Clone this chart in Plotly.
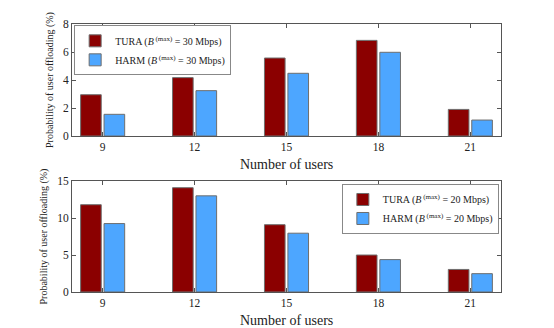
import plotly.graph_objects as go

users = [9, 12, 15, 18, 21]

# top panel, B(max) = 30 Mbps
tura_30 = [2.95, 4.17, 5.57, 6.83, 1.9]
harm_30 = [1.55, 3.24, 4.48, 5.98, 1.14]

# bottom panel, B(max) = 20 Mbps
tura_20 = [11.8, 14.1, 9.1, 5.0, 3.05]
harm_20 = [9.25, 13.0, 7.95, 4.38, 2.48]

TURA_COLOR = "#8b0000"
HARM_COLOR = "#4da6ff"
EDGE = dict(color="#6e6e6e", width=1)
FONT = "Liberation Serif"

fig = go.Figure()

fig.add_trace(go.Bar(x=users, y=tura_30, name="TURA (<i>B</i><sup> (max)</sup> = 30 Mbps)",
                     marker=dict(color=TURA_COLOR, line=EDGE), xaxis="x", yaxis="y", legend="legend"))
fig.add_trace(go.Bar(x=users, y=harm_30, name="HARM (<i>B</i><sup> (max)</sup> = 30 Mbps)",
                     marker=dict(color=HARM_COLOR, line=EDGE), xaxis="x", yaxis="y", legend="legend"))
fig.add_trace(go.Bar(x=users, y=tura_20, name="TURA (<i>B</i><sup> (max)</sup> = 20 Mbps)",
                     marker=dict(color=TURA_COLOR, line=EDGE), xaxis="x2", yaxis="y2", legend="legend2"))
fig.add_trace(go.Bar(x=users, y=harm_20, name="HARM (<i>B</i><sup> (max)</sup> = 20 Mbps)",
                     marker=dict(color=HARM_COLOR, line=EDGE), xaxis="x2", yaxis="y2", legend="legend2"))

axis_common = dict(showline=True, linecolor="#555555", linewidth=1, mirror="ticks",
                   ticks="inside", ticklen=4, tickcolor="#555555", showgrid=False,
                   zeroline=False, automargin=False,
                   tickfont=dict(family=FONT, size=11.5, color="#222"))

xcommon = dict(axis_common, range=[8, 22], tickvals=users)
ytitle = dict(text="Probability of user offloading (%)", font=dict(family=FONT, size=10, color="#222"),
              standoff=7)

legend_style = dict(bgcolor="white", bordercolor="#888888", borderwidth=1,
                    font=dict(family=FONT, size=10, color="#222"), tracegroupgap=0,
                    itemwidth=30)

# x-axis titles sit tight under the tick labels, so place them as annotations
xtitle_font = dict(family=FONT, size=14, color="#222")
annotations = [
    dict(text="Number of users", xref="paper", yref="paper", x=0.5, y=0.582, yshift=-19,
         yanchor="top", showarrow=False, font=xtitle_font),
    dict(text="Number of users", xref="paper", yref="paper", x=0.5, y=0.0, yshift=-19,
         yanchor="top", showarrow=False, font=xtitle_font),
]

# the page body adds an 8px margin, so the figure is 8px smaller each way
fig.update_layout(
    width=546, height=320,
    margin=dict(l=64, r=53, t=16, b=36, autoexpand=False),
    plot_bgcolor="white", paper_bgcolor="white",
    font=dict(family=FONT),
    barmode="group", bargap=0.49, bargroupgap=0.12,
    xaxis=dict(xcommon, domain=[0, 1], anchor="y"),
    yaxis=dict(axis_common, domain=[0.582, 1.0], range=[0, 8], tickvals=[0, 2, 4, 6, 8],
               anchor="x", title=ytitle),
    xaxis2=dict(xcommon, domain=[0, 1], anchor="y2"),
    yaxis2=dict(axis_common, domain=[0, 0.414], range=[0, 15], tickvals=[0, 5, 10, 15],
                anchor="x2", title=ytitle),
    legend=dict(legend_style, x=0.005, y=0.995, xanchor="left", yanchor="top"),
    legend2=dict(legend_style, x=0.995, y=0.403, xanchor="right", yanchor="top"),
    annotations=annotations,
    showlegend=True,
)

fig.write_html("out.html")
